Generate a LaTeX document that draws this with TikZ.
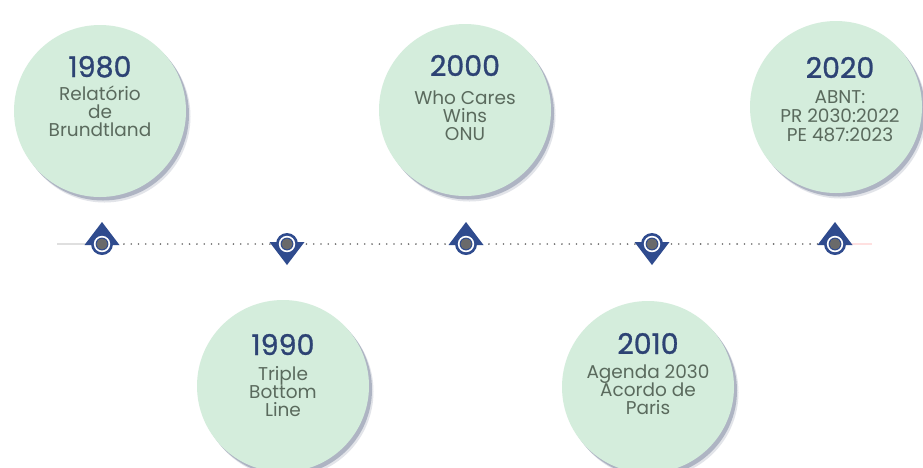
\documentclass[tikz,border=0pt]{standalone}
\usepackage{fontspec}
\setmainfont{Poppins}
\newfontfamily\yearfont{Poppins}[FakeBold=1]
\usetikzlibrary{shadows}
\definecolor{mint}{HTML}{D4EDDC}
\definecolor{yearblue}{HTML}{2D4374}
\definecolor{bodygray}{HTML}{5A6A5D}
\definecolor{pinblue}{HTML}{2F4B8E}
\definecolor{dotgray}{HTML}{6A6A6A}
\definecolor{shadowc}{HTML}{8C95AA}
\begin{document}
\begin{tikzpicture}[x=1pt,y=-1pt,
  bubble/.style={circle, fill=mint, minimum size=172pt, inner sep=0pt,
    drop shadow={shadow xshift=4.5pt, shadow yshift=-5.5pt, fill=shadowc, opacity=0.25},
    drop shadow={shadow xshift=3pt, shadow yshift=-3.5pt, fill=shadowc, opacity=0.6}},
  yr/.style={anchor=base, inner sep=0pt, text=yearblue, font=\yearfont\fontsize{28.5}{28.5}\selectfont},
  bd/.style={anchor=base, inner sep=0pt, text=bodygray, font=\fontsize{18.5}{18.5}\selectfont},
  pinup/.pic={
    \fill[pinblue] (-17.5,1) -- (0,-22) -- (17.5,1) -- cycle;
    \fill[pinblue] (0,0) circle (11);
    \fill[white] (0,0) circle (8.2);
    \fill[pinblue] (0,0) circle (6.4);
    \fill[dotgray] (0,0) circle (5.4);
  },
  pindown/.pic={
    \fill[pinblue] (-17.5,-2) -- (0,21) -- (17.5,-2) -- cycle;
    \fill[pinblue] (0,0) circle (11);
    \fill[white] (0,0) circle (8.2);
    \fill[pinblue] (0,0) circle (6.4);
    \fill[dotgray] (0,0) circle (5.4);
  }]
\useasboundingbox (0,0) rectangle (923,467);
\fill[white] (0,0) rectangle (923,467);

% bubbles
\node[bubble] (c1980) at (100,111) {};
\node[bubble] (c2000) at (465,110) {};
\node[bubble] (c2020) at (836,107) {};
\node[bubble] (c1990) at (283,386) {};
\node[bubble] (c2010) at (648,387) {};

% texts
\node[yr] (y1980) at (100,77) {1980};
\node[bd] (t1980a) at (100,100) {Relatório};
\node[bd] (t1980b) at (100,118) {de};
\node[bd] (t1980c) at (100,136) {Brundtland};

\node[yr] (y2000) at (465,76) {2000};
\node[bd] (t2000a) at (465,104) {Who Cares};
\node[bd] (t2000b) at (465,122) {Wins};
\node[bd] (t2000c) at (465,140) {ONU};

\node[yr] (y2020) at (840,78) {2020};
\node[bd] (t2020a) at (840,103) {ABNT:};
\node[bd] (t2020b) at (840,122) {PR 2030:2022};
\node[bd] (t2020c) at (840,141) {PE 487:2023};

\node[yr] (y1990) at (283,355) {1990};
\node[bd] (t1990a) at (283,380) {Triple};
\node[bd] (t1990b) at (283,398) {Bottom};
\node[bd] (t1990c) at (283,416) {Line};

\node[yr] (y2010) at (648,354) {2010};
\node[bd] (t2010a) at (648,378) {Agenda 2030};
\node[bd] (t2010b) at (648,396) {Acordo de};
\node[bd] (t2010c) at (648,414) {Paris};

% timeline
\coordinate (lstart) at (57,244);
\coordinate (m1) at (102,244);
\coordinate (m2) at (287,244);
\coordinate (m3) at (466,244);
\coordinate (m4) at (652,244);
\coordinate (m5) at (835,244);
\coordinate (lend) at (872,244);
\draw[line width=1.2pt, gray!25] (lstart) -- (m1);
\draw[line width=1.2pt, red!12] (m5) -- (lend);
\draw[dotgray, line width=1.8pt, dash pattern=on 0pt off 7.3pt, line cap=round] (m1) -- (m5);

\pic at (m1) {pinup};
\pic at (m2) {pindown};
\pic at (m3) {pinup};
\pic at (m4) {pindown};
\pic at (m5) {pinup};
\end{tikzpicture}
\end{document}
